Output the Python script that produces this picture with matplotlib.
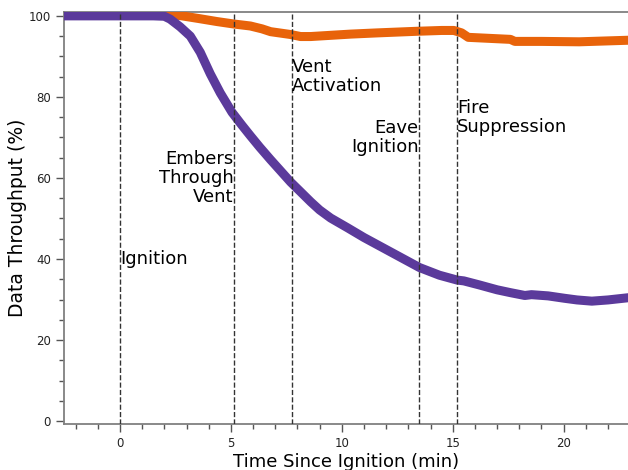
import matplotlib
matplotlib.use("Agg")
import matplotlib.pyplot as plt
from matplotlib.ticker import MultipleLocator

# throughput traces (minutes since ignition, percent)
purple_t = [-2.6, 0.0, 1.5, 2.0, 2.26, 2.71, 3.17, 3.62, 4.07, 4.52, 5.05, 5.5,
            5.88, 6.3, 6.79, 7.2, 7.69, 8.1, 8.6, 9.0, 9.5, 10.26, 11.0, 12.52,
            13.5, 14.4, 15.2, 15.5, 16.2, 17.0, 17.6, 18.25, 18.55, 19.3, 20.05,
            20.6, 21.27, 22.0, 23.0]
purple_v = [100.0, 100.0, 100.0, 99.9, 99.2, 97.3, 95.0, 91.0, 85.7, 81.0, 76.2,
            73.0, 70.4, 67.6, 64.5, 62.0, 59.0, 56.8, 54.1, 52.1, 50.1, 47.7, 45.3,
            40.8, 37.9, 36.0, 34.8, 34.6, 33.6, 32.4, 31.7, 31.0, 31.2, 30.9, 30.3,
            29.9, 29.6, 29.9, 30.5]

orange_t = [1.9, 2.8, 3.6, 4.37, 5.12, 5.88, 6.4, 6.79, 7.69, 8.14, 8.6, 10.4,
            11.6, 13.4, 14.5, 15.05, 15.4, 15.7, 17.6, 17.8, 19.0, 20.7, 23.0]
orange_v = [100.6, 100.0, 99.3, 98.6, 98.0, 97.5, 96.8, 96.1, 95.4, 94.9, 94.9,
            95.5, 95.8, 96.2, 96.4, 96.4, 95.8, 94.7, 94.2, 93.7, 93.7, 93.6, 94.0]

# event markers
event_t = [0.0, 5.12, 7.74, 13.47, 15.19]
event_labels = ["Ignition", "Embers\nThrough\nVent", "Vent\nActivation",
                "Eave\nIgnition", "Fire\nSuppression"]
event_label_y = [40, 60, 85, 70, 75]
event_side = ["left", "right", "left", "right", "left"]

fig = plt.figure(figsize=(6.28, 4.70), dpi=100)
ax = fig.add_axes([0.102, 0.098, 0.898, 0.876])

ax.plot(orange_t, orange_v, color="#e8630a", linewidth=6.5, solid_capstyle="butt",
        solid_joinstyle="round", zorder=3)
ax.plot(purple_t, purple_v, color="#5b3a9b", linewidth=6.5, solid_capstyle="butt",
        solid_joinstyle="round", zorder=3)

for t, lab, yv, side in zip(event_t, event_labels, event_label_y, event_side):
    ax.axvline(t, color="#333333", linestyle="--", linewidth=1, zorder=4)
    ax.text(t, yv, lab, ha=side, va="center", fontsize=13, color="black",
            linespacing=1.05, zorder=5)

ax.set_xlim(-2.52, 22.9)
ax.set_ylim(-0.7, 100.9)
ax.xaxis.set_major_locator(MultipleLocator(5))
ax.xaxis.set_minor_locator(MultipleLocator(1))
ax.yaxis.set_major_locator(MultipleLocator(20))
ax.yaxis.set_minor_locator(MultipleLocator(5))

for side in ["left", "bottom", "top"]:
    ax.spines[side].set_color("#808080")
    ax.spines[side].set_linewidth(1.3)
ax.spines["right"].set_visible(False)
ax.tick_params(which="major", length=6, width=1, color="#555555", labelsize=8.5,
               labelcolor="#222222")
ax.tick_params(which="minor", length=3.5, width=1, color="#555555")

ax.set_xlabel("Time Since Ignition (min)", fontsize=13, labelpad=2)
ax.set_ylabel("Data Throughput (%)", fontsize=13.5, labelpad=1)

fig.savefig("out.png", dpi=100)
